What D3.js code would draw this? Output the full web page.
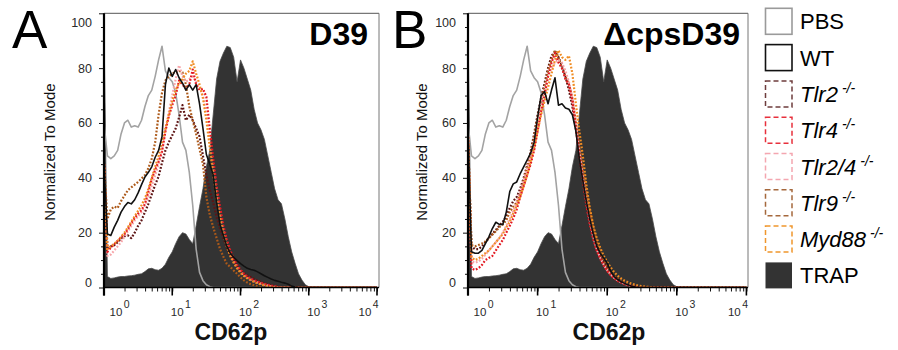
<!DOCTYPE html>
<html>
<head>
<meta charset="utf-8">
<script src="https://cdn.jsdelivr.net/npm/d3@7/dist/d3.min.js"></script>
<style>
  html, body { margin: 0; padding: 0; background: #fff; }
  svg { display: block; font-family: "Liberation Sans", Arial, Helvetica, sans-serif; }
</style>
</head>
<body>
<svg id="chart" width="898" height="350"></svg>
<script>
// ---------------- DATA ----------------
// CD62p fluorescence intensity (shared sampling grid)
const cd62p = [1, 1.122, 1.259, 1.413, 1.585, 1.778, 1.995, 2.239, 2.512, 2.818,
  3.162, 3.548, 3.981, 4.467, 5.012, 5.623, 6.310, 7.079, 7.943, 8.913,
  10, 11.22, 12.59, 14.13, 15.85, 17.78, 19.95, 22.39, 25.12, 28.18,
  31.62, 35.48, 39.81, 44.67, 50.12, 56.23, 63.10, 70.79, 79.43, 89.13,
  100, 112.2, 125.9, 141.3, 158.5, 177.8, 199.5, 223.9, 251.2, 281.8,
  316.2, 354.8, 398.1, 446.7, 501.2, 562.3, 631.0, 707.9, 794.3, 891.3,
  1000, 10000];

// Controls (same in both panels), % of mode
const pbsMode = [60,48,47,48,50,56,60,61,58.5,59, 58.5,61,66,70,72,77,83,88,79,76.5,
  75,71,63,53,50,42,30,14,5.5,2.5, 1,0.3,0,0,0,0,0,0,0,0,
  0,0,0,0,0,0,0,0,0,0, 0,0,0,0,0,0,0,0,0,0, 0,0];
const trapMode = [95,4,3.3,3.5,3.8,4,4,4.2,4.3,4.5, 4.8,5,5.8,6.8,7,6.5,6.3,7,8.5,11,
  13,16,18.5,20,19.5,17.5,16,22.5,29.5,36, 44,50,63,76,82.5,85.5,88,87.5,84,75,
  83,80,76,72,65,60,57.5,54,48,42, 36,32,30.5,25,18.5,13,8.8,5,2.7,1, 0.3,0];

// Panel A: D39
const d39WT = [45,19.5,19,22,24.5,27.5,29.5,31,30.5,32, 34.5,37.5,40.3,42,44,47.5,50,55,74,80,
  77,79.5,76.5,74.5,72,74,72,74,67,58, 48.5,45,41,31,23,19,15,12.5,11,9.8,
  8.7,7.8,7,6.6,6.3,5.7,5,4.3,3.7,3.1, 2.6,2.3,1.9,1.6,1.2,0.5,0.2,0,0,0, 0,0];
const d39Tlr2 = [45,14.3,15,15.4,16.5,17.8,18.7,19,18,20, 22.5,24.5,27.5,30.5,34,37.5,40.5,45.5,50,53,
  55.5,58,62,66.5,61,63,61,58,55,48, 41,35.5,31,25.7,21.5,17.8,14.6,12,9.8,7.8,
  6.2,5.2,4.4,3.8,3.1,2.5,2,1.5,1.1,0.8, 0.5,0.2,0,0,0,0,0,0,0,0, 0,0];
const d39Tlr4 = [45,13,14.5,15.8,17,18.3,19.5,21.3,23.5,25.3, 27,28.2,30.5,35,39.5,43,46,49.5,57,62.5,
  66.5,70,75.5,74,72.5,74,79.5,74,72,72.5, 69.5,58,47,37,29.5,22.5,17.5,13.5,10.5,8.2,
  6.5,5,4,3.2,2.6,2.1,1.7,1.3,1,0.7, 0.4,0.2,0,0,0,0,0,0,0,0, 0,0];
const d39Tlr24 = [45,11.5,12,13.5,15,16.5,18.5,20.5,22.5,24.5, 26,27.5,30,33,37,41,45,50,57,64,
  70,76,81,77,75,76,77,75,73,70, 64,54,44,35,27.5,21,16,12.5,9.6,7.5,
  5.8,4.5,3.6,2.9,2.3,1.8,1.4,1,0.7,0.4, 0.2,0,0,0,0,0,0,0,0,0, 0,0];
const d39Tlr9 = [45,25,28.5,29.5,29,31.5,33.5,35.5,36.5,37.5, 38.5,39.7,41,43.5,47,53,63,71,75.5,77,
  78,78.5,79,78.5,74,66,61,56,50.5,45, 33,26.5,22,18,14,11.2,8.6,7.5,6.2,5,
  3.7,2.6,1.8,1.2,0.8,0.4,0.1,0,0,0, 0,0,0,0,0,0,0,0,0,0, 0,0];
const d39Myd88 = [45,14,15,16,17,18.5,20,22,24,26, 28,30,32.5,36,40,44,48,53,58,63,
  68,72,74.5,76,78,79,82.5,78,74,69, 61,51,41,32.5,25.5,19.5,15,11.5,9,7,
  5.3,4.2,3.3,2.6,2,1.5,1.1,0.8,0.5,0.3, 0,0,0,0,0,0,0,0,0,0, 0,0];

// Panel B: ΔcpsD39
const cpsWT = [55,13,12.5,12.5,13.5,16,18.5,21.5,23.8,23, 23,27.5,35,37.8,38.5,41.5,44,46.5,49,53,
  62,70,71.5,67,72,76.5,66.5,67,65.5,65, 63,57,47,39,31.5,25,19.5,15,12.5,10.8,
  8.8,6,4,2.9,2.1,1.5,1,0.5,0.2,0, 0,0,0,0,0,0,0,0,0,0, 0,0];
const cpsTlr2 = [55,15,14,14,15,16.5,18,19.5,21,22.5, 24,26,29,31.5,33,36,40,44.5,49.5,56,
  63,69,74.5,80,84.5,86,84,81,77,72, 66,58,49,41,33,26,20,15.5,12,9.4,
  7.2,5.4,4,3,2.2,1.5,1,0.6,0.3,0, 0,0,0,0,0,0,0,0,0,0, 0,0];
const cpsTlr4 = [55,7,6.4,7,8.2,10,10.8,11.5,13.5,15.5, 17.3,20,22.5,25.2,28.5,33,37,41,45,50,
  57,64,70,77,82,85.5,82,80,76,74, 68,58,48,39,30,23,17.5,13.5,10.5,8,
  6,4.5,3.3,2.4,1.8,1.2,0.8,0.5,0.2,0, 0,0,0,0,0,0,0,0,0,0, 0,0];
const cpsTlr24 = [55,9.5,9,9.5,10.5,12,13.5,15,16.5,18, 20,22.5,25,28,31,35,39,43.5,48,53.5,
  60,66,72,77,80,82,83,82,79,75, 69,60,50,40.5,32,24.5,18.5,14,10.8,8.3,
  6.3,4.7,3.5,2.6,1.9,1.3,0.9,0.5,0.2,0, 0,0,0,0,0,0,0,0,0,0, 0,0];
const cpsTlr9 = [55,15.5,15,15.5,16,16.8,18,19.3,20.5,22, 23,24.5,27.5,29.5,31,34,39,44,48.5,55,
  62,68,73,79,83,86.5,84,80,77,74, 69,60,51,43,35,28,22,17,13,10,
  7.5,5.6,4.2,3.1,2.3,1.6,1.1,0.7,0.4,0.2, 0,0,0,0,0,0,0,0,0,0, 0,0];
const cpsMyd88 = [55,11,10,10.5,11.5,12.5,13.5,15,16.5,18, 19.5,22,24,27,30,33,37,41,46,51,
  57,63,68,73,78,83,86.5,84,83,84.5, 78,67,57,48,37.5,29,22.5,18,14.5,11.5,
  9.3,7.3,5.6,4.3,3.3,2.5,1.9,1.4,1,0.7, 0.5,0.3,0.2,0,0,0,0,0,0,0, 0,0];

const yTickValues = [0, 20, 40, 60, 80, 100];
const xTickExponents = [0, 1, 2, 3, 4];
const panelTitles = ["D39", "\u0394cpsD39"];
const panelLetters = ["A", "B"];
const legendLabels = ["PBS", "WT", "Tlr2", "Tlr4", "Tlr2/4", "Tlr9", "Myd88", "TRAP"];
const axisTitleX = "CD62p";
const axisTitleY = "Normalized To Mode";

// ---------------- STYLES ----------------
const styles = {
  "PBS":    {color: "#a3a3a3", width: 1.6, dash: null},
  "WT":     {color: "#111111", width: 1.6, dash: null},
  "Tlr2":   {color: "#5e1414", width: 2.2, dash: "1.8,1.7", legend: "#6e3c3c"},
  "Tlr4":   {color: "#e31a22", width: 2.2, dash: "1.8,1.7", legend: "#e8303c"},
  "Tlr2/4": {color: "#f7a4a8", width: 2.2, dash: "1.8,1.7", legend: "#f4a6b0"},
  "Tlr9":   {color: "#ad5a1a", width: 2.2, dash: "1.8,1.7", legend: "#a5683c"},
  "Myd88":  {color: "#f08c22", width: 2.2, dash: "1.8,1.7", legend: "#f0962c"},
  "TRAP":   {color: "#333333"}
};

const panels = [
  {x0: 104, x1: 377, right: 379, letterX: 12, titleRight: 368, ylabX: 50, tickLabX: 92, xTitleX: 231,
   series: {"WT": d39WT, "Tlr2": d39Tlr2, "Tlr4": d39Tlr4, "Tlr2/4": d39Tlr24, "Tlr9": d39Tlr9, "Myd88": d39Myd88}},
  {x0: 468, x1: 746.4, right: 748, letterX: 392, titleRight: 740, ylabX: 421.5, tickLabX: 456, xTitleX: 609,
   series: {"WT": cpsWT, "Tlr2": cpsTlr2, "Tlr4": cpsTlr4, "Tlr2/4": cpsTlr24, "Tlr9": cpsTlr9, "Myd88": cpsMyd88}}
];

const yTop = 13.3, yBot = 287.5;
const svg = d3.select("#chart");
const y = d3.scaleLinear().domain([0, 100]).range([yBot, yTop]);

function pts(vals) {
  const n = Math.min(vals.length, cd62p.length);
  const out = [];
  for (let i = 0; i < n; i++) out.push([cd62p[i], vals[i]]);
  return out;
}

panels.forEach((p, pi) => {
  const x = d3.scaleLog().domain([1, 10000]).range([p.x0, p.x1]);
  const g = svg.append("g");

  const clipId = "clip" + pi;
  svg.append("clipPath").attr("id", clipId).append("rect")
    .attr("x", p.x0).attr("y", yTop).attr("width", p.right - p.x0).attr("height", yBot - yTop);

  const plot = g.append("g").attr("clip-path", `url(#${clipId})`);

  // TRAP filled histogram
  const area = d3.area().x(d => x(d[0])).y0(yBot).y1(d => y(d[1]));
  plot.append("path").datum(pts(trapMode))
    .attr("d", area).attr("fill", styles.TRAP.color)
    .attr("stroke", "#4a4a4a").attr("stroke-width", 0.8);

  const line = d3.line().x(d => x(d[0])).y(d => y(d[1]));
  // PBS
  plot.append("path").datum(pts(pbsMode)).attr("d", line)
    .attr("fill", "none").attr("stroke", styles.PBS.color).attr("stroke-width", styles.PBS.width)
    .attr("stroke-linejoin", "round");

  ["Tlr2", "Tlr9", "Tlr2/4", "Tlr4", "Myd88", "WT"].forEach(k => {
    const s = styles[k];
    plot.append("path").datum(pts(p.series[k])).attr("d", line)
      .attr("fill", "none").attr("stroke", s.color).attr("stroke-width", s.width)
      .attr("stroke-dasharray", s.dash).attr("stroke-linejoin", "round");
  });

  // frame: top & right
  g.append("line").attr("x1", p.x0).attr("x2", p.right).attr("y1", yTop).attr("y2", yTop)
    .attr("stroke", "#555").attr("stroke-width", 1);
  g.append("line").attr("x1", p.right).attr("x2", p.right).attr("y1", yTop).attr("y2", yBot)
    .attr("stroke", "#777").attr("stroke-width", 1);

  // Y axis
  const yAx = g.append("g").attr("transform", `translate(${p.x0},0)`)
    .call(d3.axisLeft(y).tickValues(d3.range(0, 101, 5)).tickSize(3).tickFormat(""));
  yAx.select(".domain").remove();
  yAx.selectAll(".tick line").attr("stroke", "#111").attr("stroke-width", 1)
    .attr("x2", d => (d % 20 === 0 ? -5 : -3));
  g.append("line").attr("x1", p.x0).attr("x2", p.x0).attr("y1", yTop).attr("y2", yBot + 8)
    .attr("stroke", "#000").attr("stroke-width", 2.2);

  yTickValues.forEach(v => {
    let yy = y(v) + 4.5;
    if (v === 100) yy = y(v) + 14;
    if (v === 0) yy = y(v) - 0.5;
    g.append("text").attr("x", p.tickLabX).attr("y", yy).attr("text-anchor", "end")
      .attr("font-size", 12.5).attr("fill", "#2a2a2a").text(v);
  });

  // X axis
  const minor = [];
  for (let e = 0; e < 4; e++) for (let m = 2; m <= 9; m++) minor.push(m * Math.pow(10, e));
  const xAx = g.append("g").attr("transform", `translate(0,${yBot})`)
    .call(d3.axisBottom(x).tickValues(minor.concat(xTickExponents.map(e => Math.pow(10, e))))
      .tickSize(4).tickFormat(""));
  xAx.select(".domain").remove();
  xAx.selectAll(".tick line").attr("stroke", "#111").attr("stroke-width", 1);
  xTickExponents.forEach(e => {
    g.append("line").attr("x1", x(Math.pow(10, e))).attr("x2", x(Math.pow(10, e)))
      .attr("y1", yBot).attr("y2", yBot + 8).attr("stroke", "#000").attr("stroke-width", 1.6);
  });
  g.append("line").attr("x1", p.x0).attr("x2", p.right).attr("y1", yBot).attr("y2", yBot)
    .attr("stroke", "#000").attr("stroke-width", 1.6);

  xTickExponents.forEach((e, i) => {
    let xx = x(Math.pow(10, e)) - 1.5;
    if (i === 0) xx = x(1) + 5.5;
    if (i === xTickExponents.length - 1) xx = x(Math.pow(10, e)) - 18.5;
    const t = g.append("text").attr("x", xx).attr("y", 315.5)
      .attr("font-size", 11.5).attr("fill", "#2a2a2a");
    t.append("tspan").text("10");
    t.append("tspan").attr("dy", -8).attr("dx", 1.5).attr("font-size", 10.5).text(e);
  });

  // titles
  g.append("text").attr("x", p.xTitleX).attr("y", 340).attr("text-anchor", "middle")
    .attr("font-size", 23).attr("font-weight", "bold").attr("fill", "#111").text(axisTitleX);
  g.append("text").attr("transform", `translate(${p.ylabX + 5},152) rotate(-90)`)
    .attr("text-anchor", "middle").attr("font-size", 15).attr("fill", "#111").text(axisTitleY);
  g.append("text").attr("x", p.titleRight).attr("y", 45).attr("text-anchor", "end")
    .attr("font-size", 32).attr("font-weight", "bold").attr("fill", "#000").text(panelTitles[pi]);
  g.append("text").attr("x", p.letterX).attr("y", 48)
    .attr("font-size", 53).attr("fill", "#000").text(panelLetters[pi]);
});

// ---------------- LEGEND ----------------
const lg = svg.append("g");
legendLabels.forEach((name, i) => {
  const s = styles[name];
  const by = 8.3 + i * 36.3;
  const r = lg.append("rect").attr("x", 765.5).attr("y", by).attr("width", 26.5).attr("height", 26);
  if (name === "TRAP") {
    r.attr("fill", s.color).attr("stroke", "none");
  } else if (s.dash) {
    r.attr("fill", "none").attr("stroke", s.legend).attr("stroke-width", 1.5).attr("stroke-dasharray", "5,3");
  } else {
    r.attr("fill", "none").attr("stroke", name === "PBS" ? "#9a9a9a" : "#111").attr("stroke-width", 1.6);
  }
  const t = lg.append("text").attr("x", 800).attr("y", by + 21).attr("font-size", 22).attr("fill", "#000");
  if (s.dash) {
    t.append("tspan").attr("font-style", "italic").text(name);
    t.append("tspan").attr("font-style", "italic").attr("font-size", 14).attr("dx", 4).attr("dy", -9).text("-/-");
  } else {
    t.text(name);
  }
});
</script>
</body>
</html>
